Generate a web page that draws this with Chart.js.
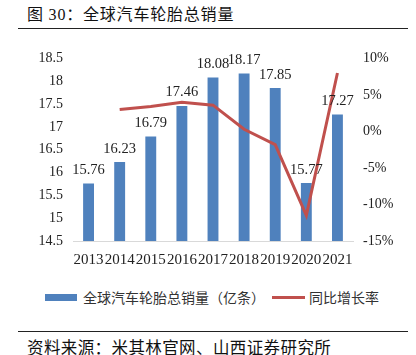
<!DOCTYPE html>
<html><head><meta charset="utf-8">
<script src="https://cdn.jsdelivr.net/npm/chart.js@4"></script>
<style>
html,body{margin:0;padding:0;background:#fff;width:416px;height:355px;overflow:hidden;position:relative;font-family:"Noto Sans CJK SC",sans-serif;}
#title{position:absolute;left:27px;top:1px;font-size:16px;letter-spacing:0.8px;color:#111;white-space:nowrap;font-family:"Liberation Serif","Noto Sans CJK SC",serif;}
#title .cj{font-family:"Noto Sans CJK SC",sans-serif;}
.hr{position:absolute;left:18px;width:390px;height:1px;background:#222;}
#wrap{position:absolute;left:0;top:40px;width:416px;height:235px;}
#legend{position:absolute;top:285px;left:45px;font-size:14px;color:#333;white-space:nowrap;}
#legend span{display:inline-block;vertical-align:middle;}
#src{position:absolute;left:27px;top:335px;font-size:16.5px;letter-spacing:0.4px;color:#111;white-space:nowrap;}
</style></head>
<body>
<div id="title"><span class="cj">图</span> 30<span class="cj">：全球汽车轮胎总销量</span></div>
<div class="hr" style="top:28px"></div>
<div id="wrap"><canvas id="c" width="416" height="235"></canvas></div>
<div id="legend"><span style="width:32px;height:7px;background:#4F81BD;"></span><span style="margin-left:6px;">全球汽车轮胎总销量（亿条）</span><span style="width:33px;height:3px;background:#C0504D;margin-left:7px;"></span><span style="margin-left:4px;">同比增长率</span></div>
<div class="hr" style="top:331px"></div>
<div id="src">资料来源：米其林官网、山西证券研究所</div>
<script>
const categories = ["2013","2014","2015","2016","2017","2018","2019","2020","2021"];
const sales = [15.76,16.23,16.79,17.46,18.08,18.17,17.85,15.77,17.27];
const growth = [null,3.0,3.4,4.0,3.6,0.3,-1.8,-11.5,8.0];
const leftTicks = [14.5,15,15.5,16,16.5,17,17.5,18,18.5];
const rightTicks = [-15,-10,-5,0,5,10];

const serif = {family:"'Liberation Serif','Times New Roman',serif", size:14};
const labelPlugin = {
  id:'barLabels',
  afterDatasetsDraw(chart){
    const ctx = chart.ctx;
    const meta = chart.getDatasetMeta(0);
    ctx.save();
    ctx.font = "14.5px 'Liberation Serif', serif";
    ctx.fillStyle = '#222';
    ctx.textAlign = 'center';
    ctx.textBaseline = 'bottom';
    meta.data.forEach((el,i)=>{
      ctx.fillText(sales[i].toFixed(2), el.x, el.y - 6);
    });
    ctx.restore();
  }
};
new Chart(document.getElementById('c'), {
  data:{
    labels: categories,
    datasets:[
      {type:'bar', label:'全球汽车轮胎总销量（亿条）', data:sales, backgroundColor:'#4F81BD', barPercentage:0.35, categoryPercentage:1, yAxisID:'y', order:2},
      {type:'line', label:'同比增长率', data:growth, borderColor:'#C0504D', borderWidth:3, pointRadius:0, tension:0, yAxisID:'y1', order:1, spanGaps:false}
    ]
  },
  options:{
    responsive:false, animation:false,
    layout:{padding:{top:18,left:0,right:0,bottom:0}},
    plugins:{legend:{display:false}, tooltip:{enabled:false}},
    scales:{
      x:{grid:{display:false, drawTicks:false}, border:{display:true,color:'#d9d9d9',width:1},
         ticks:{color:'#222', font:{family:serif.family,size:15}, padding:10, maxRotation:0, autoSkip:false},
         afterFit(s){s.height=34;}},
      y:{position:'left', min:14.5, max:18.5, grid:{display:false, drawTicks:false}, border:{display:false},
         afterBuildTicks(s){s.ticks = leftTicks.map(v=>({value:v}));},
         ticks:{color:'#222', font:serif, padding:10, callback:v=>String(v)},
         afterFit(s){s.width=73;}},
      y1:{position:'right', min:-15, max:10, grid:{display:false, drawTicks:false}, border:{display:false},
         afterBuildTicks(s){s.ticks = rightTicks.map(v=>({value:v}));},
         ticks:{color:'#222', font:serif, padding:10, callback:v=>v+'%'},
         afterFit(s){s.width=63;}}
    }
  },
  plugins:[labelPlugin]
});
</script>
</body></html>
